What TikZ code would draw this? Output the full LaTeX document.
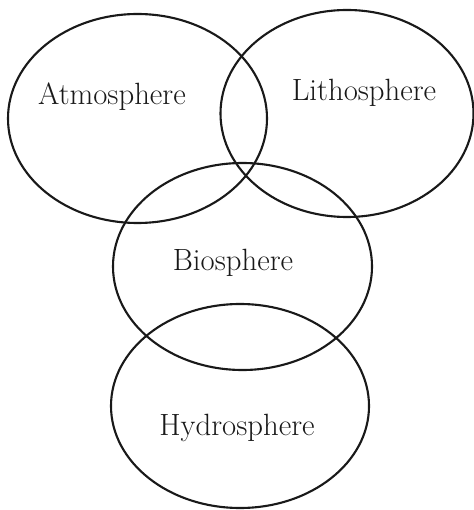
\documentclass[tikz,border=0pt]{standalone}
\usepackage{tikz}

\begin{document}
\begin{tikzpicture}[
    sphere/.style={line width=1.2pt, color=black!90},
    lbl/.style={font=\fontsize{17.5}{20}\selectfont, text=black!90}
]
    \useasboundingbox (0, 0) rectangle (9.46, -10.2);

    \draw[sphere] (2.75, -2.37) ellipse [x radius=2.59, y radius=2.09];
    \draw[sphere] (6.94, -2.27) ellipse [x radius=2.53, y radius=2.07];
    \draw[sphere] (4.85, -5.33) ellipse [x radius=2.59, y radius=2.07];
    \draw[sphere] (4.80, -8.12) ellipse [x radius=2.58, y radius=2.04];

    \node[lbl] (atmo) at (2.24, -1.94) {Atmosphere};
    \node[lbl] (litho) at (7.28, -1.86) {Lithosphere};
    \node[lbl] (bio) at (4.66, -5.26) {Biosphere};
    \node[lbl] (hydro) at (4.74, -8.56) {Hydrosphere};
\end{tikzpicture}
\end{document}
